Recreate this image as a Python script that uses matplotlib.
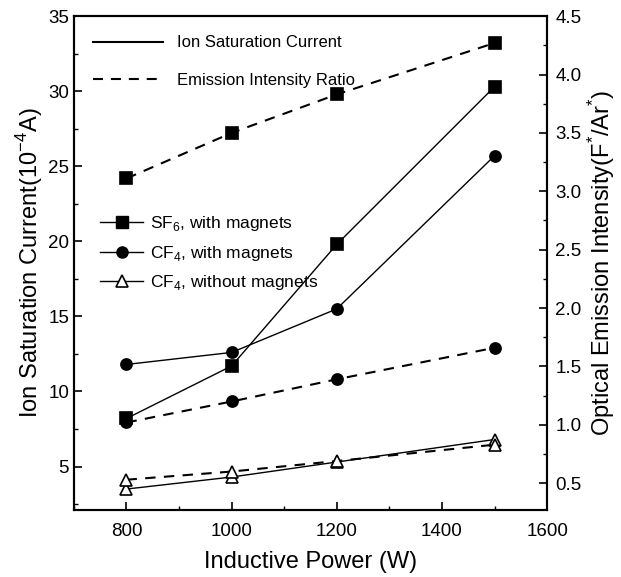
import matplotlib.pyplot as plt
from matplotlib.lines import Line2D

plt.rcParams['font.family'] = ['Liberation Sans', 'DejaVu Sans']
plt.rcParams['mathtext.fontset'] = 'custom'
plt.rcParams['mathtext.rm'] = 'Liberation Sans'

power = [800, 1000, 1200, 1500]

# ion saturation current (10^-4 A), left axis
isc_sf6 = [8.2, 11.7, 19.8, 30.3]
isc_cf4_mag = [11.8, 12.6, 15.5, 25.7]
isc_cf4_nomag = [3.5, 4.3, 5.3, 6.8]

# emission intensity ratio F*/Ar*, right axis
eir_sf6 = [3.11, 3.50, 3.83, 4.27]
eir_cf4_mag = [1.02, 1.20, 1.39, 1.66]
eir_cf4_nomag = [0.53, 0.60, 0.69, 0.83]

fig = plt.figure(figsize=(6.21, 5.77), dpi=100)
ax = fig.add_axes([0.119, 0.116, 0.762, 0.856])
ax2 = ax.twinx()

mk = dict(color='black', markersize=8, markeredgewidth=1.2)
ax.plot(power, isc_sf6, '-', marker='s', lw=1, **mk)
ax.plot(power, isc_cf4_mag, '-', marker='o', lw=1, **mk)
ax.plot(power, isc_cf4_nomag, '-', marker='^', markerfacecolor='white', lw=1, **mk)

ax2.plot(power, eir_sf6, '--', marker='s', lw=1.5, dashes=(5, 4), **mk)
ax2.plot(power, eir_cf4_mag, '--', marker='o', lw=1.5, dashes=(5, 4), **mk)
ax2.plot(power, eir_cf4_nomag, '--', marker='^', markerfacecolor='white', lw=1.5, dashes=(5, 4), **mk)

ax.set_xlim(700, 1600)
ax.set_ylim(2.1, 35)
ax2.set_ylim(0.27, 4.5)
ax.set_xticks([800, 1000, 1200, 1400, 1600])
ax.set_xticks(range(700, 1601, 100), minor=True)
ax.set_yticks([5, 10, 15, 20, 25, 30, 35])
ax.set_yticks([2.5, 7.5, 12.5, 17.5, 22.5, 27.5, 32.5], minor=True)
ax2.set_yticks([0.5, 1.0, 1.5, 2.0, 2.5, 3.0, 3.5, 4.0, 4.5])
ax2.set_yticks([0.75, 1.25, 1.75, 2.25, 2.75, 3.25, 3.75, 4.25], minor=True)
ax2.set_yticklabels(['0.5', '1.0', '1.5', '2.0', '2.5', '3.0', '3.5', '4.0', '4.5'])

for a in (ax, ax2):
    a.tick_params(which='major', direction='in', length=6, width=1.2, labelsize=13.5)
    a.tick_params(which='minor', direction='in', length=3, width=1)
    for s in a.spines.values():
        s.set_linewidth(1.5)
ax.tick_params(axis='x', pad=9)
ax.tick_params(axis='y', right=False)
ax2.tick_params(axis='y', pad=6)

ax.set_xlabel('Inductive Power (W)', fontsize=17, labelpad=8)
ax.set_ylabel('Ion Saturation Current(10$^{-4}$A)', fontsize=17, labelpad=2)
ax2.set_ylabel('Optical Emission Intensity(F$^{*}$/Ar$^{*}$)', fontsize=17, labelpad=3)

style_handles = [Line2D([], [], color='black', lw=1.5),
                 Line2D([], [], color='black', lw=1.5, ls='--', dashes=(4.8, 3.8))]
leg1 = ax.legend(style_handles, ['Ion Saturation Current', 'Emission Intensity Ratio'],
                 loc='center left', bbox_to_anchor=(0.04, 0.908), frameon=False,
                 borderpad=0, borderaxespad=0,
                 fontsize=12, handlelength=4.2, labelspacing=1.35, handletextpad=0.85)
ax.add_artist(leg1)

marker_handles = [Line2D([], [], color='black', lw=1, marker='s', markersize=8),
                  Line2D([], [], color='black', lw=1, marker='o', markersize=8),
                  Line2D([], [], color='black', lw=1, marker='^', markersize=8,
                         markerfacecolor='white', markeredgewidth=1.2)]
ax.legend(marker_handles, ['SF$_6$, with magnets', 'CF$_4$, with magnets',
                           'CF$_4$, without magnets'],
          loc='center left', bbox_to_anchor=(0.055, 0.52), frameon=False,
          borderpad=0, borderaxespad=0,
          fontsize=12.5, handlelength=2.5, labelspacing=0.62, handletextpad=0.4)

fig.savefig('out.png', dpi=100)
